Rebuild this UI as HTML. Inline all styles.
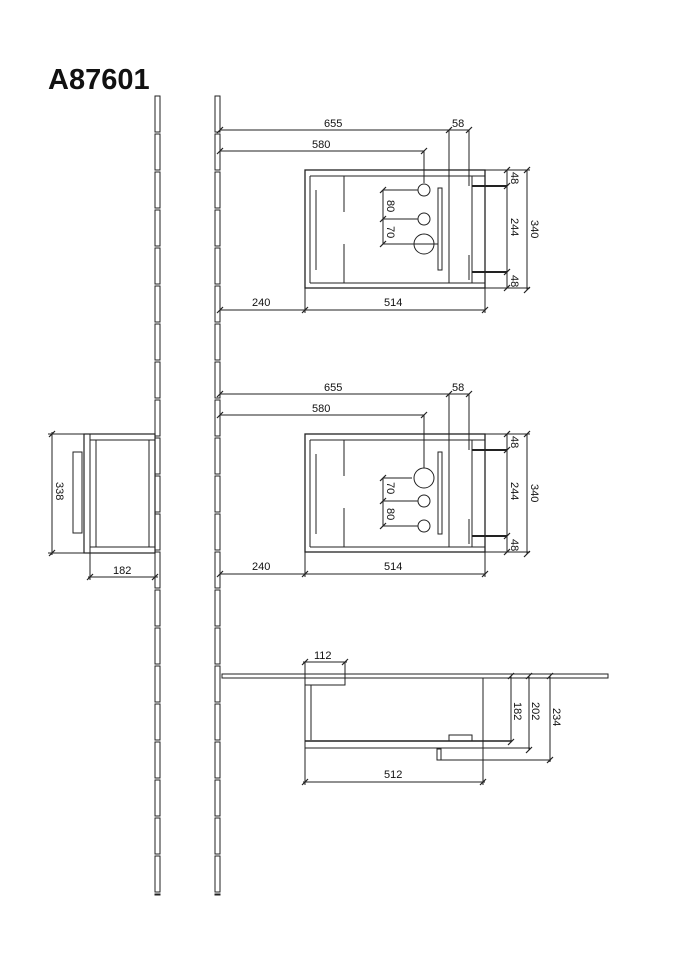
<!DOCTYPE html>
<html><head><meta charset="utf-8"><style>
html,body{margin:0;padding:0;background:#fff;width:675px;height:960px;overflow:hidden}
svg{display:block}
text{font-family:"Liberation Sans",sans-serif;font-size:11px;fill:#111}
</style></head><body>
<svg id="s" width="675" height="960" viewBox="0 0 675 960" stroke="#222" fill="none" stroke-width="1">
<text x="48" y="89" style="font-size:29px;font-weight:bold" stroke="none">A87601</text>
<g id="cols"></g>

<!-- PLAN 1 -->
<g>
<rect x="305" y="170" width="180" height="118" stroke-width="1.3"/>
<line x1="310" y1="176" x2="485" y2="176"/>
<line x1="310" y1="283" x2="485" y2="283"/>
<line x1="310" y1="176" x2="310" y2="283"/>
<line x1="472" y1="176" x2="472" y2="283"/>
<line x1="316" y1="190" x2="316" y2="270"/>
<line x1="344" y1="176" x2="344" y2="212"/><line x1="344" y1="244" x2="344" y2="283"/>
<line x1="420" y1="176" x2="378" y2="176" stroke="none"/>
<line x1="449" y1="130" x2="449" y2="283"/>
<line x1="469" y1="130" x2="469" y2="186"/><line x1="469" y1="255" x2="469" y2="280"/>
<line x1="424" y1="151" x2="424" y2="183"/>
<circle cx="424" cy="190" r="6"/><circle cx="424" cy="219" r="6"/><circle cx="424" cy="244" r="10"/>
<line x1="410" y1="244" x2="438" y2="244"/>
<rect x="438" y="188" width="4" height="82"/>
<line x1="472" y1="186" x2="507" y2="186" stroke-width="2"/>
<line x1="472" y1="272" x2="507" y2="272" stroke-width="2"/>
<line x1="485" y1="170" x2="530" y2="170"/><line x1="485" y1="288" x2="530" y2="288"/>
<line x1="507" y1="170" x2="507" y2="288"/><line x1="527" y1="170" x2="527" y2="290"/>
<line x1="383" y1="190" x2="383" y2="244"/>
<line x1="383" y1="190" x2="418" y2="190"/><line x1="383" y1="219" x2="418" y2="219"/><line x1="383" y1="244" x2="410" y2="244"/>
<line x1="220" y1="130" x2="469" y2="130"/><line x1="220" y1="151" x2="424" y2="151"/>
<line x1="220" y1="310" x2="485" y2="310"/>
<line x1="305" y1="288" x2="305" y2="313"/><line x1="485" y1="288" x2="485" y2="313"/>
<text x="324" y="127" stroke="none">655</text><text x="452" y="127" stroke="none">58</text>
<text x="312" y="148" stroke="none">580</text>
<text x="252" y="306" stroke="none">240</text><text x="384" y="306" stroke="none">514</text>
<text transform="translate(387,200) rotate(90)" stroke="none">80</text>
<text transform="translate(387,226) rotate(90)" stroke="none">70</text>
<text transform="translate(511,172) rotate(90)" stroke="none">48</text>
<text transform="translate(511,218) rotate(90)" stroke="none">244</text>
<text transform="translate(531,220) rotate(90)" stroke="none">340</text>
<text transform="translate(511,275) rotate(90)" stroke="none">48</text>
</g>

<!-- PLAN 2 -->
<g transform="translate(0,264)">
<rect x="305" y="170" width="180" height="118" stroke-width="1.3"/>
<line x1="310" y1="176" x2="485" y2="176"/>
<line x1="310" y1="283" x2="485" y2="283"/>
<line x1="310" y1="176" x2="310" y2="283"/>
<line x1="472" y1="176" x2="472" y2="283"/>
<line x1="316" y1="190" x2="316" y2="270"/>
<line x1="344" y1="176" x2="344" y2="212"/><line x1="344" y1="244" x2="344" y2="283"/>
<line x1="449" y1="130" x2="449" y2="283"/>
<line x1="469" y1="130" x2="469" y2="186"/><line x1="469" y1="255" x2="469" y2="280"/>
<line x1="424" y1="151" x2="424" y2="204"/>
<circle cx="424" cy="214" r="10"/><circle cx="424" cy="237" r="6"/><circle cx="424" cy="262" r="6"/>
<rect x="438" y="188" width="4" height="82"/>
<line x1="472" y1="186" x2="507" y2="186" stroke-width="2"/>
<line x1="472" y1="272" x2="507" y2="272" stroke-width="2"/>
<line x1="485" y1="170" x2="530" y2="170"/><line x1="485" y1="288" x2="530" y2="288"/>
<line x1="507" y1="170" x2="507" y2="288"/><line x1="527" y1="170" x2="527" y2="290"/>
<line x1="383" y1="214" x2="383" y2="262"/>
<line x1="383" y1="214" x2="412" y2="214"/><line x1="383" y1="237" x2="418" y2="237"/><line x1="383" y1="262" x2="418" y2="262"/>
<line x1="220" y1="130" x2="469" y2="130"/><line x1="220" y1="151" x2="424" y2="151"/>
<line x1="220" y1="310" x2="485" y2="310"/>
<line x1="305" y1="288" x2="305" y2="313"/><line x1="485" y1="288" x2="485" y2="313"/>
<text x="324" y="127" stroke="none">655</text><text x="452" y="127" stroke="none">58</text>
<text x="312" y="148" stroke="none">580</text>
<text x="252" y="306" stroke="none">240</text><text x="384" y="306" stroke="none">514</text>
<text transform="translate(387,218) rotate(90)" stroke="none">70</text>
<text transform="translate(387,244) rotate(90)" stroke="none">80</text>
<text transform="translate(511,172) rotate(90)" stroke="none">48</text>
<text transform="translate(511,218) rotate(90)" stroke="none">244</text>
<text transform="translate(531,220) rotate(90)" stroke="none">340</text>
<text transform="translate(511,275) rotate(90)" stroke="none">48</text>
</g>

<!-- SIDE VIEW -->
<g>
<rect x="84" y="434" width="71" height="119" stroke-width="1.2"/>
<line x1="90" y1="434" x2="90" y2="553"/>
<line x1="90" y1="440" x2="155" y2="440"/><line x1="90" y1="547" x2="155" y2="547"/>
<line x1="96" y1="440" x2="96" y2="547"/><line x1="149" y1="440" x2="149" y2="547"/>
<rect x="73" y="452" width="9" height="81"/>
<line x1="48" y1="434" x2="84" y2="434"/><line x1="48" y1="553" x2="84" y2="553"/>
<line x1="52" y1="432" x2="52" y2="555"/>
<line x1="90" y1="553" x2="90" y2="580"/>
<line x1="88" y1="577" x2="158" y2="577"/>
<text transform="translate(56,482) rotate(90)" stroke="none">338</text>
<text x="113" y="574" stroke="none">182</text>
</g>

<!-- SECTION -->
<g>
<rect x="222" y="674" width="386" height="4" />
<rect x="305" y="678" width="40" height="7"/>
<line x1="305" y1="662" x2="305" y2="742"/><line x1="311" y1="685" x2="311" y2="740"/>
<line x1="345" y1="662" x2="345" y2="685"/>
<line x1="303" y1="662" x2="347" y2="662"/>
<line x1="305" y1="741" x2="512" y2="741" stroke-width="1.5"/>
<line x1="305" y1="748" x2="530" y2="748"/>
<line x1="305" y1="741" x2="305" y2="785"/>
<rect x="449" y="735" width="23" height="6"/>
<rect x="437" y="749" width="4" height="11"/>
<line x1="441" y1="760" x2="551" y2="760"/>
<line x1="483" y1="678" x2="483" y2="785"/>
<line x1="303" y1="782" x2="485" y2="782"/>
<line x1="511" y1="676" x2="511" y2="742"/>
<line x1="529" y1="676" x2="529" y2="750"/>
<line x1="550" y1="676" x2="550" y2="762"/>
<text x="314" y="659" stroke="none">112</text>
<text x="384" y="778" stroke="none">512</text>
<text transform="translate(514,702) rotate(90)" stroke="none">182</text>
<text transform="translate(532,702) rotate(90)" stroke="none">202</text>
<text transform="translate(553,708) rotate(90)" stroke="none">234</text>
</g>
<g id="ticks" stroke-width="1.2"></g>
</svg>
<script>
var ns="http://www.w3.org/2000/svg",c=document.getElementById('cols');
function el(t,a,p){var e=document.createElementNS(ns,t);for(var k in a)e.setAttribute(k,a[k]);(p||c).appendChild(e);}
[155,215].forEach(function(x){for(var y=96;y<895;y+=38){el('rect',{x:x,y:y,width:5,height:Math.min(36,895-y)});}});
var wy=[674];for(var x=222;x<608;x+=73){el('line',{x1:x+72,y1:674,x2:x+72,y2:678,stroke:'#fff','stroke-width':2});}
var T=[[220,130],[449,130],[469,130],[220,151],[424,151],[220,310],[305,310],[485,310],[507,170],[527,170],[507,186],[507,272],[507,288],[527,290],[383,190],[383,219],[383,244],
[220,394],[449,394],[469,394],[220,415],[424,415],[220,574],[305,574],[485,574],[507,434],[527,434],[507,450],[507,536],[507,552],[527,554],[383,478],[383,501],[383,526],
[52,434],[52,553],[90,577],[155,577],[305,662],[345,662],[305,782],[483,782],[511,676],[511,742],[529,676],[529,750],[550,676],[550,760]];
var g=document.getElementById('ticks');
T.forEach(function(p){el('line',{x1:p[0]-3,y1:p[1]+3,x2:p[0]+3,y2:p[1]-3},g);});
</script>
</body></html>
